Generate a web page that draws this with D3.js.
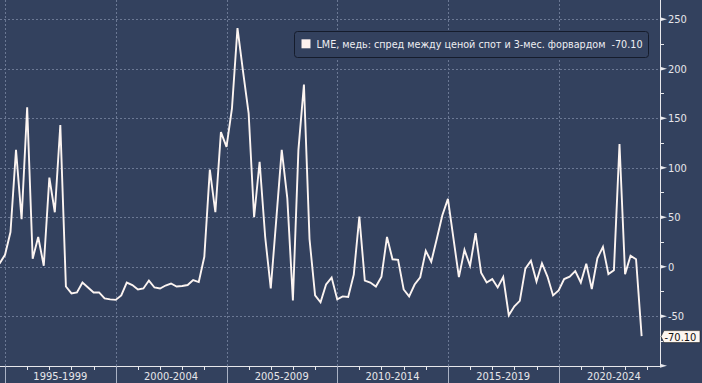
<!DOCTYPE html>
<html><head><meta charset="utf-8">
<script src="https://cdn.jsdelivr.net/npm/d3@7"></script>
<style>
html,body{margin:0;padding:0;background:#33415e;}
svg{display:block;}
text{font-family:"DejaVu Sans Condensed","DejaVu Sans",sans-serif;}
</style></head>
<body>
<svg id="c" width="702" height="383"></svg>
<script>
// quarterly observations starting 1994 Q4
const startYear = 1994, startMonth = 9;
const values = [3,12,35,118,48,161,8,30,1,90,55,143,-20,-27,-26,-16,-21,-26,-26,-32,
-33,-33.5,-29,-16,-18.5,-23,-22,-14,-21,-22,-19,-17,-20,-19.5,-18.5,-13.5,-15.5,10,98,55,
136,121,160,241,197,155,50,106,30,-22,47,118,69,-34,118,184,28,-29,-36,-18,
-11,-33,-30,-30.5,-8,50.5,-14,-16,-20,-10,30,7.5,7,-23,-30,-18,-10.7,16,5,28,
52,68.5,29,-10.5,17,1,34,-6,-16,-12.5,-21,-10.5,-49,-40,-34.5,-2,6,-15,3.5,-10,
-29,-24,-12.5,-10,-4.5,-16,3,-22.5,8.5,20,-7.5,-3.5,124,-7.5,11,7.5,-70.1];
const yTicks = [-50,0,50,100,150,200,250];
const yMinorTicks = [-75,-25,25,75,125,175,225];
const periodStarts = [1995,2000,2005,2010,2015,2020];
const periodLabels = ["1995-1999","2000-2004","2005-2009","2010-2014","2015-2019","2020-2024"];
const legendText = "LME, медь: спред между ценой спот и 3-мес. форвардом  -70.10";
const lastLabel = "-70.10";

const data = values.map((v,i)=>({d:new Date(startYear, startMonth + 3*i, 1), v}));

const svg = d3.select("#c");
const W = 702, H = 383, plotR = 660, plotB = 366;
const bg = "#33415e";
svg.append("rect").attr("width",W).attr("height",H).attr("fill",bg);

const x = d3.scaleTime().domain([new Date(1994,9,10), new Date(2024,6,30)]).range([0, plotR]);
const y = d3.scaleLinear().domain([-100,250]).range([365.7,19.2]);

// grid
const grid = svg.append("g").attr("stroke","#6b7894").attr("stroke-width",1).attr("stroke-dasharray","2,2");
yTicks.forEach(t=>{
  grid.append("line").attr("x1",0).attr("x2",plotR).attr("y1",Math.round(y(t))+0.5).attr("y2",Math.round(y(t))+0.5);
});
periodStarts.forEach(yr=>{
  const xx = Math.round(x(new Date(yr,0,1)))+0.5;
  grid.append("line").attr("x1",xx).attr("x2",xx).attr("y1",0).attr("y2",plotB);
});

// line
const clip = svg.append("clipPath").attr("id","pc").append("rect").attr("x",0).attr("y",0).attr("width",plotR).attr("height",plotB);
svg.append("path").datum(data)
  .attr("clip-path","url(#pc)")
  .attr("fill","none").attr("stroke","#fcf4f1").attr("stroke-width",1.9).attr("stroke-linejoin","miter")
  .attr("d", d3.line().x(d=>x(d.d)).y(d=>y(d.v)));

// x axis
const axisCol = "#e8e8ec";
svg.append("line").attr("x1",0).attr("x2",plotR).attr("y1",plotB+0.5).attr("y2",plotB+0.5).attr("stroke",axisCol);
const years = d3.range(1995, 2025);
years.forEach(yr=>{
  const xx = Math.round(x(new Date(yr,0,1)))+0.5;
  const major = periodStarts.includes(yr);
  svg.append("line").attr("x1",xx).attr("x2",xx).attr("y1",plotB).attr("y2",major?H:plotB+4)
    .attr("stroke", major? "#aab2c4" : axisCol);
});
periodLabels.forEach((lab,i)=>{
  const xm = x(new Date(periodStarts[i]+2,6,1));
  svg.append("text").attr("x",xm).attr("y",379.5).attr("text-anchor","middle")
    .attr("font-size",11).attr("fill","#e6e6ea").text(lab);
});

// y axis (right)
svg.append("line").attr("x1",plotR+0.5).attr("x2",plotR+0.5).attr("y1",0).attr("y2",plotB+1).attr("stroke",axisCol);
[-100].concat(yTicks).forEach(t=>{
  const yy = y(t);
  svg.append("path").attr("d",`M${plotR},${yy-2} L${plotR+7},${yy} L${plotR},${yy+2} Z`).attr("fill",axisCol);
});
yMinorTicks.forEach(t=>{
  const yy = Math.round(y(t))+0.5;
  svg.append("line").attr("x1",plotR).attr("x2",plotR+4).attr("y1",yy).attr("y2",yy).attr("stroke",axisCol);
});
yTicks.forEach(t=>{
  svg.append("text").attr("x",668).attr("y",y(t)+4).attr("font-size",11).attr("fill","#e6e6ea").text(t);
});

// last value label
const ly = y(values[values.length-1]);
svg.append("path").attr("d",`M${plotR+1},${ly+0.5} L${plotR+4},${ly-5.5} L700,${ly-5.5} L700,${ly+6.5} L${plotR+4},${ly+6.5} Z`)
  .attr("fill","#fdf6f0").attr("stroke","#222").attr("stroke-width",0.6);
svg.append("text").attr("x",664.5).attr("y",ly+4.5).attr("font-size",11).attr("fill","#111").text(lastLabel);

// legend
svg.append("rect").attr("x",294.5).attr("y",31.5).attr("width",354).attr("height",26).attr("rx",3)
  .attr("fill",bg).attr("stroke","#151c2c").attr("stroke-width",1);
svg.append("rect").attr("x",301.5).attr("y",39.3).attr("width",9).attr("height",9).attr("fill","#fdf1ee");
svg.append("text").attr("x",316.5).attr("y",48.3).attr("font-size",11).attr("fill","#eeeef2")
  .attr("textLength",326).attr("lengthAdjust","spacingAndGlyphs").attr("xml:space","preserve").text(legendText);
</script>
</body></html>
